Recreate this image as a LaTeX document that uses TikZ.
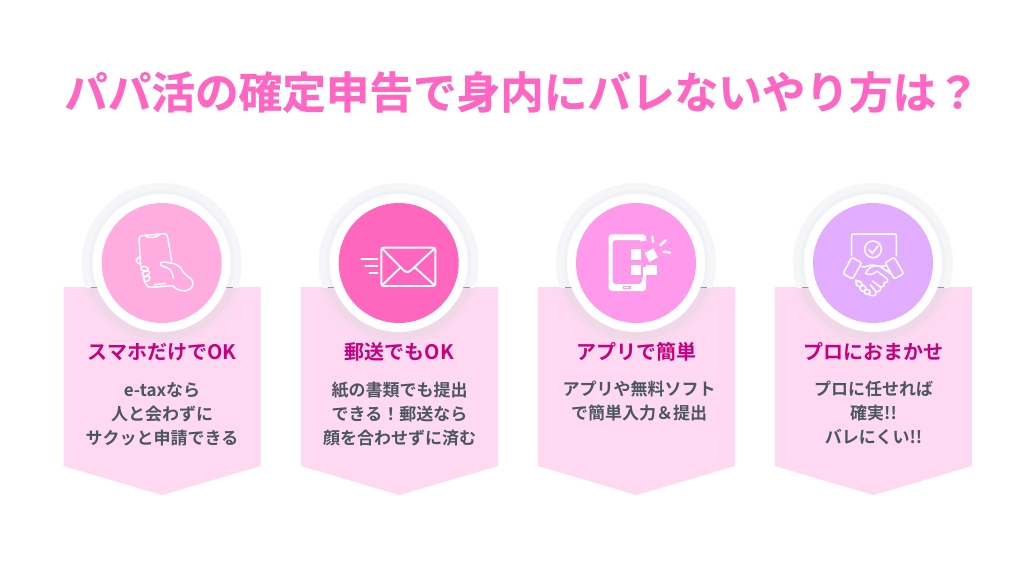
\documentclass[tikz,border=0pt]{standalone}
\usepackage{fontspec}
\setmainfont{Noto Sans CJK JP}[BoldFont={Noto Sans CJK JP Bold}]
\newfontfamily\titlefont{Noto Sans CJK JP Bold}[FakeBold=0.6]
\definecolor{titlepink}{HTML}{FF66C4}
\definecolor{headpink}{HTML}{C6007E}
\definecolor{bodygrey}{HTML}{4A5661}
\definecolor{panelpink}{HTML}{FFD9F2}
\definecolor{panelshade}{HTML}{F0D8E8}
\definecolor{panelshadeb}{HTML}{F9D9EE}
\definecolor{haloout}{HTML}{F4F6F8}
\definecolor{haloin}{HTML}{F0F2F5}
\definecolor{discA}{HTML}{FFADE0}
\definecolor{discB}{HTML}{FF66BE}
\definecolor{discC}{HTML}{FF99EC}
\definecolor{discD}{HTML}{E3ADFF}
\tikzset{
  titletext/.style={font=\titlefont\fontsize{43.6}{46}\selectfont,text=titlepink,inner sep=0pt},
  headtext/.style={font=\bfseries\fontsize{20}{24}\selectfont,text=headpink,inner sep=0pt},
  bodytext/.style={font=\bfseries\fontsize{17}{24}\selectfont,text=bodygrey,align=center,inner sep=0pt},
  panelbox/.style={fill=panelpink,draw=none},
  icon/.style={draw=white,line width=1.5pt,line cap=round,line join=round,fill=none},
  zoomed/.style={x=0.33333pt,y=-0.33333pt}
}
\newcommand{\cardbase}[3]{% centre x panel, centre x disc, colour
  \path[panelbox] (#1-98.5,287) -- (#1+98.5,287) -- (#1+98.5,466) -- (#1,495) -- (#1-98.5,466) -- cycle;
  \begin{scope}
    \clip (#1-98.5,287) rectangle (#1+98.5,400);
    \fill[panelshadeb] (#2,263) circle[radius=82];
    \fill[panelshade] (#2,263) circle[radius=77];
  \end{scope}
  \begin{scope}
    \clip (#2-90,170) rectangle (#2+90,287);
    \fill[haloout] (#2,263) circle[radius=80];
    \fill[haloin] (#2,263) circle[radius=72.5];
  \end{scope}
  \draw[black!40,line width=0.6pt] (#2-71,287) -- (#2+71,287);
  \fill[white] (#2,263) circle[radius=69];
  \fill[#3] (#2,263) circle[radius=60];
}
\begin{document}
\begin{tikzpicture}[x=1pt,y=-1pt]
\useasboundingbox (0,0) rectangle (1024,576);
\fill[white] (0,0) rectangle (1024,576);
\node[titletext] (title) at (522,92) {パパ活の確定申告で身内にバレないやり方は？};

\cardbase{162}{161.7}{discA}
\cardbase{399.5}{398.7}{discB}
\cardbase{636.5}{636}{discC}
\cardbase{873.5}{873}{discD}

% icon 1: phone in hand
\begin{scope}[shift={(125,225)},zoomed]
  \draw[icon] (42,42) .. controls (42,36) and (46,33) .. (52,32) -- (115,26) .. controls (122,25) and (126,28) .. (128,36) -- (140,108);
  \draw[icon] (42,42) -- (47,122) (55,160) -- (62,176) .. controls (65,184) and (70,187) .. (78,187) -- (142,182);
  \draw[icon] (60,32) .. controls (70,42) and (95,38) .. (105,28);
  \draw[icon] (88,179) -- (122,175);
  \draw[icon,rounded corners=2pt] (45,97) -- (34,99) -- (34,114) -- (46,116);
  \draw[icon,rounded corners=2pt] (46,126) -- (66,124) -- (72,134) -- (52,140) -- cycle;
  \draw[icon,rounded corners=2pt] (52,140) -- (72,136) -- (74,150) -- (54,156) -- cycle;
  \draw[icon,rounded corners=2pt] (54,156) -- (74,152) -- (76,164) -- (60,172) -- cycle;
  \draw[icon] (142,182) .. controls (155,196) and (180,204) .. (195,192) .. controls (208,182) and (206,166) .. (194,158) .. controls (180,150) and (176,142) .. (166,128) .. controls (156,116) and (140,114) .. (125,112) -- (113,111) .. controls (104,111) and (104,121) .. (112,123) -- (130,130) .. controls (140,136) and (142,145) .. (146,160);
\end{scope}

% icon 2: envelope
\begin{scope}[shift={(300,180)},zoomed]
  \draw[icon,line width=1.9pt,rounded corners=2pt] (244,203) rectangle (406,318);
  \draw[icon,line width=1.9pt] (246,205) -- (310,270) .. controls (318,278) and (326,278) .. (334,270) -- (404,205);
  \draw[icon,line width=1.9pt] (248,314) -- (302,262) (402,314) -- (344,262);
  \draw[icon,line width=1.9pt] (184,238) -- (232,238) (196,259) -- (232,259) (208,280) -- (232,280);
\end{scope}

% icon 3: tablet with tiles
\begin{scope}[shift={(540,180)},zoomed]
  \fill[white,rounded corners=3pt,even odd rule] (206,163) rectangle (318,333)
     (218,180) rectangle (306,312);
  \fill[discC] (262,200) rectangle (310,295);
  \fill[discC] (306,182) rectangle (322,262);
  \fill[discC] (248,318) rectangle (272,326);
  \fill[white] (252,320) rectangle (268,324);
  \fill[white] (272,207) rectangle (304,240);
  \fill[white] (272,254) rectangle (304,286);
  \fill[white] (318,254) rectangle (351,286);
  \fill[white] (314,219) -- (340,205) -- (354,232) -- (328,246) -- cycle;
  \fill[white] (306,296) rectangle (318,312);
  \draw[icon,line width=2.4pt] (337,170) -- (339,186) (377,181) -- (361,196) (371,215) -- (390,218);
\end{scope}

% icon 4: handshake with badge
\begin{scope}[shift={(835,225)},zoomed]
  \draw[icon] (50,92) -- (50,32) .. controls (50,28) and (52,27) .. (56,27) -- (178,27) .. controls (182,27) and (184,28) .. (184,32) -- (184,92);
  \draw[icon] (114,73) circle[radius=25];
  \draw[icon,line width=1.7pt] (102,74) -- (112,85) -- (129,63);
  \draw[icon,rounded corners=2pt] (50,97) -- (80,113) -- (53,162) -- (24,146) -- cycle;
  \draw[icon,rounded corners=2pt] (178,97) -- (206,146) -- (178,162) -- (150,113) -- cycle;
  \draw[icon] (80,125) .. controls (92,128) and (100,120) .. (114,120) -- (135,124) -- (154,122);
  \draw[icon] (92,145) .. controls (96,128) and (118,118) .. (135,124) -- (170,148);
  \draw[icon] (92,145) .. controls (100,152) and (116,148) .. (126,138) -- (155,160) .. controls (162,166) and (155,176) .. (148,172);
  \draw[icon] (62,165) -- (72,172);
  \draw[icon,rounded corners=2pt] (60,172) -- (72,164) -- (84,180) -- (72,188) -- cycle;
  \draw[icon,rounded corners=2pt] (72,188) -- (84,178) -- (96,192) -- (84,202) -- cycle;
  \draw[icon,rounded corners=2pt] (84,200) -- (96,190) -- (108,202) -- (98,210) -- cycle;
  \draw[icon] (100,208) -- (110,212) .. controls (122,214) and (126,206) .. (122,200) .. controls (132,202) and (140,194) .. (136,186) .. controls (146,186) and (152,178) .. (148,172);
  \draw[icon] (112,168) -- (136,186) (106,180) -- (122,198);
\end{scope}

% text
\node[headtext] (h1) at (162,352) {スマホだけでOK};
\node[bodytext] (b1) at (162,414.5) {e-taxなら\\人と会わずに\\サクッと申請できる};
\node[headtext] (h2) at (399.5,352) {郵送でもOK};
\node[bodytext] (b2) at (399.5,414.5) {紙の書類でも提出\\できる！郵送なら\\顔を合わせずに済む};
\node[headtext] (h3) at (636.5,352) {アプリで簡単};
\node[bodytext,anchor=north] (b3) at (639,380.5) {アプリや無料ソフト\\で簡単入力＆提出};
\node[headtext] (h4) at (873.5,352) {プロにおまかせ};
\node[bodytext,anchor=north] (b4) at (873.5,380.5) {プロに任せれば\\確実!!\\バレにくい!!};
\end{tikzpicture}
\end{document}
